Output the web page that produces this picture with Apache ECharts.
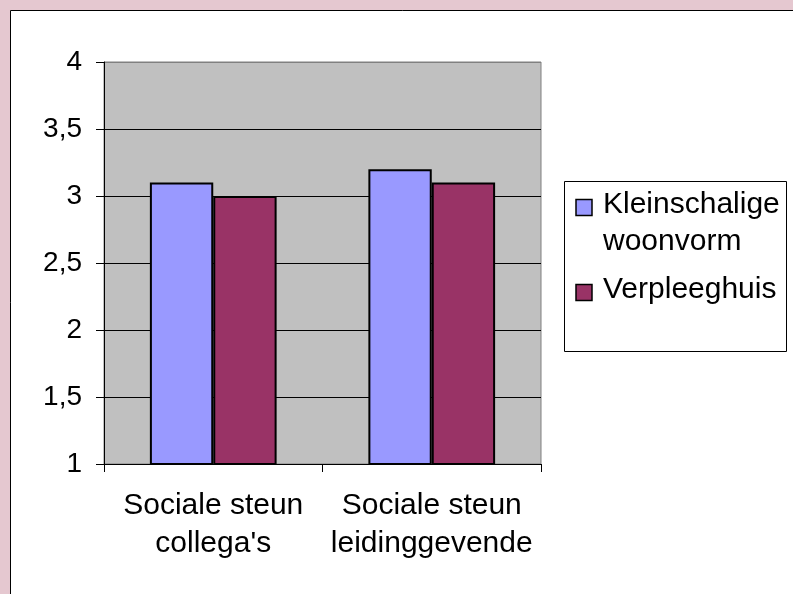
<!DOCTYPE html>
<html lang="nl">
<head>
    <meta charset="UTF-8">
    <title>Sociale steun</title>
    <script src="https://cdn.jsdelivr.net/npm/echarts@6/dist/echarts.min.js"></script>
    <style>
        body { margin: 0; background: #E5C8D0; }
        #chart { width: 793px; height: 594px; }
    </style>
</head>
<body>
<div id="chart"></div>
<script type="text/javascript">
    const categories = ["Sociale steun\ncollega's", "Sociale steun\nleidinggevende"];
    const seriesNames = ["Kleinschalige woonvorm", "Verpleeghuis"];
    const legendLabels = ["Kleinschalige\nwoonvorm", "Verpleeghuis"];
    const kleinschalig = [3.1, 3.2];
    const verpleeghuis = [3.0, 3.1];
    const seriesColors = ["#9999FF", "#993366"];

    const FONT = "Liberation Sans";
    const chart = echarts.init(document.getElementById("chart"));

    // legend drawn by hand so the square sits next to the first text line
    const legendTops = [186, 271];
    const legendItems = [];
    seriesNames.forEach((name, i) => {
        legendItems.push({
            type: "rect",
            shape: {x: 576, y: legendTops[i] + 13.5, width: 16, height: 16},
            style: {fill: seriesColors[i], stroke: "#000", lineWidth: 1.5}
        });
        legendItems.push({
            type: "text",
            x: 603, y: legendTops[i],
            style: {
                text: legendLabels[i], fill: "#000",
                font: "30px '" + FONT + "'", lineHeight: 37,
                verticalAlign: "top"
            }
        });
    });

    const option = {
        animation: false,
        graphic: [{
            type: "rect", z: -10,
            shape: {x: 10.5, y: 10.5, width: 800, height: 600},
            style: {fill: "#fff", stroke: "#000", lineWidth: 1}
        }, {
            type: "rect",
            shape: {x: 564.5, y: 181.5, width: 222, height: 170},
            style: {fill: "#fff", stroke: "#000", lineWidth: 1}
        }].concat(legendItems),
        grid: {
            left: 104, top: 62, right: 252, bottom: 130,
            show: true, backgroundColor: "#C0C0C0",
            borderColor: "#808080", borderWidth: 1
        },
        xAxis: {
            type: "category",
            data: categories,
            axisLine: {lineStyle: {color: "#000", width: 1}},
            axisTick: {show: true, length: 8, lineStyle: {color: "#000"}},
            axisLabel: {
                color: "#000", fontFamily: FONT, fontSize: 30,
                lineHeight: 38, margin: 23, interval: 0, hideOverlap: false
            }
        },
        yAxis: {
            type: "value",
            min: 1, max: 4, interval: 0.5,
            axisLine: {show: true, lineStyle: {color: "#000", width: 1}},
            axisTick: {show: true, length: 8, lineStyle: {color: "#000"}},
            axisLabel: {
                color: "#000", fontFamily: FONT, fontSize: 28, margin: 22,
                formatter: (v) => String(v).replace(".", ",")
            },
            splitLine: {
                show: true,
                lineStyle: {color: ["#000", "#000", "#000", "#000", "#000", "#000", "#808080"], width: 1}
            }
        },
        series: [{
            name: seriesNames[0],
            type: "bar",
            data: kleinschalig,
            barGap: "0%",
            barCategoryGap: "42%",
            itemStyle: {color: seriesColors[0], borderColor: "#000", borderWidth: 2}
        }, {
            name: seriesNames[1],
            type: "bar",
            data: verpleeghuis,
            barGap: "0%",
            barCategoryGap: "42%",
            itemStyle: {color: seriesColors[1], borderColor: "#000", borderWidth: 2}
        }]
    };
    chart.setOption(option);
</script>
</body>
</html>
